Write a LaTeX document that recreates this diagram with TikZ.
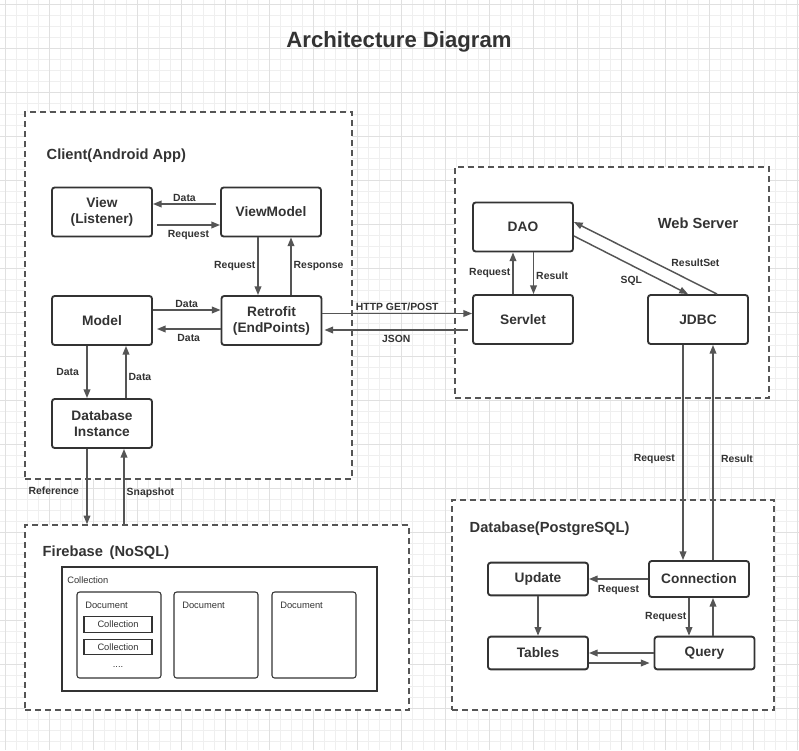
\documentclass[tikz,border=0pt]{standalone}
\usepackage{fontspec}
\setmainfont{Liberation Sans}
\usetikzlibrary{arrows.meta, positioning, fit, calc}
\definecolor{inkdark}{HTML}{333333}
\definecolor{inkline}{HTML}{555555}
\definecolor{gridminor}{HTML}{EFEFEF}
\definecolor{gridmajor}{HTML}{E0E0E0}

\begin{document}
\begin{tikzpicture}[
    x=0.75pt, y=-0.75pt,
    >={Triangle[length=6.5pt, width=5pt]},
    compbox/.style={draw=inkdark, rectangle, rounded corners=2pt,
        line width=1.4pt, fill=white, minimum width=75pt,
        minimum height=36.75pt, align=center, inner sep=0pt,
        font=\fontsize{10.3}{12}\selectfont\bfseries, text=inkdark},
    dbbox/.style={compbox, minimum height=24.5pt},
    groupbox/.style={draw=inkline, dash pattern=on 4.5pt off 3pt,
        line width=1.1pt, fill=white, inner sep=0pt},
    grouptitle/.style={font=\fontsize{11}{12}\selectfont\bfseries, text=inkdark},
    flow/.style={->, draw=inkline, line width=1.1pt},
    edgelabel/.style={font=\fontsize{7.8}{9}\selectfont\bfseries,
        text=inkdark, inner sep=1.5pt},
    smalltext/.style={font=\fontsize{7}{8}\selectfont, text=inkdark, inner sep=0pt},
    docbox/.style={draw=inkdark, rounded corners=2pt, line width=0.8pt, inner sep=0pt},
    subbox/.style={smalltext, draw=inkdark, line width=1pt,
        minimum width=51pt, minimum height=11.6pt}
]

% Background and grid
\fill[white] (0,0) rectangle (799,750);
\useasboundingbox (0,0) rectangle (799,750);
\foreach \gx in {5.3,16.3,...,799} \draw[gridminor, line width=0.6pt] (\gx,0) -- (\gx,750);
\foreach \gy in {4.7,15.7,...,750} \draw[gridminor, line width=0.6pt] (0,\gy) -- (799,\gy);
\foreach \gx in {5.3,49.3,...,799} \draw[gridmajor, line width=0.6pt] (\gx,0) -- (\gx,750);
\foreach \gy in {4.7,48.7,...,750} \draw[gridmajor, line width=0.6pt] (0,\gy) -- (799,\gy);

\node[font=\fontsize{16.6}{19}\selectfont\bfseries, text=inkdark] (title) at (399,42) {Architecture Diagram};

% Groups
\node[groupbox, fit={(25,112) (352,479)}] (client) {};
\node[groupbox, fit={(455,167) (769,398)}] (web) {};
\node[groupbox, fit={(25,525) (409,710)}] (fbase) {};
\node[groupbox, fit={(452,500) (774,710)}] (pg) {};

\node[grouptitle, anchor=west] (clienttitle) at (42,156) {Client(Android App)};
\node[grouptitle] (webtitle) at (698,223) {Web Server};
\node[grouptitle, anchor=west] (fbasetitle) at (38,553) {Firebase\hspace{5pt}(NoSQL)};
\node[grouptitle, anchor=west] (pgtitle) at (465,529) {Database(PostgreSQL)};

% Client
\node[compbox] (view) at (102,212) {View\\(Listener)};
\node[compbox] (vm) at (271,212) {ViewModel};
\node[compbox] (model) at (102,320.5) {Model};
\node[compbox] (retro) at (271.5,320.5) {Retrofit\\(EndPoints)};
\node[compbox] (dbi) at (102,423.5) {Database\\Instance};

% Web server
\node[compbox] (dao) at (523,227) {DAO};
\node[compbox] (servlet) at (523,319.5) {Servlet};
\node[compbox] (jdbc) at (698,319.5) {JDBC};

% PostgreSQL
\node[dbbox, minimum height=27pt] (conn) at (699,579) {Connection};
\node[dbbox] (update) at (538,579) {Update};
\node[dbbox] (tables) at (538,653) {Tables};
\node[dbbox] (query) at (704.5,653) {Query};

% Firebase
\node[fit={(62,567) (377,691)}, draw=inkdark, line width=1.3pt, inner sep=0pt] (coll) {};
\node[smalltext, anchor=west] (colltitle) at (67,580) {Collection};
\foreach \dx [count=\di] in {77,174,272} {
    \node[docbox, fit={(\dx,592) (\dx+84,678)}] (doc\di) {};
    \node[smalltext, anchor=west] (doctitle\di) at (\dx+8,605.5) {Document};
}
\node[subbox] (sub1) at (118,624.5) {Collection};
\node[subbox] (sub2) at (118,647) {Collection};
\node[smalltext] (dots) at (118,667) {....};

% Client paths
\draw[flow] ($(vm.west)+(-4,-8)$) -- node[edgelabel, above] {Data} ($(view.east)+(0,-8)$);
\draw[flow] ($(view.east)+(4,13)$) -- node[edgelabel, below=2pt] {Request} ($(vm.west)+(0,13)$);
\draw[flow] ($(vm.south)+(-13,0)$) -- node[edgelabel, left] {Request} ($(retro.north)+(-13.5,0)$);
\draw[flow] ($(retro.north)+(19.5,0)$) -- node[edgelabel, right] {Response} ($(vm.south)+(20,0)$);
\draw[flow] ($(model.east)+(0,-10.5)$) -- node[edgelabel, above] {Data} ($(retro.west)+(0,-10.5)$);
\draw[flow] ($(retro.west)+(0,8.5)$) -- node[edgelabel, below=2pt] {Data} ($(model.east)+(4,8.5)$);
\draw[flow] ($(model.south)+(-15,0)$) -- node[edgelabel, left=4pt] {Data} ($(dbi.north)+(-15,0)$);
\draw[flow] ($(dbi.north)+(24,0)$) -- node[edgelabel, right, pos=.4] {Data} ($(model.south)+(24,0)$);
\coordinate (refstart) at ($(dbi.south)+(-15,0)$);
\coordinate (snapend) at ($(dbi.south)+(22,0)$);
\draw[flow] (refstart) -- node[edgelabel, left=4pt, pos=.55] {Reference} (refstart |- fbase.north);
\draw[flow] (snapend |- fbase.north) -- node[edgelabel, right, pos=.42] {Snapshot} (snapend);

% Client to server
\coordinate (httpstart) at ($(retro.east)+(0,-7)$);
\coordinate (jsonstart) at ($(servlet.west)+(-4,10.5)$);
\draw[flow] (httpstart) -- node[edgelabel, above] {HTTP GET/POST} (httpstart -| servlet.west);
\draw[flow] (jsonstart) -- node[edgelabel, below=2pt] {JSON} ($(jsonstart -| retro.east)+(2,0)$);

% Server paths
\draw[flow] ($(servlet.north)+(-10,0)$) -- node[edgelabel, left] {Request} ($(dao.south)+(-10,0)$);
\draw[flow] ($(dao.south)+(10.5,0)$) -- node[edgelabel, right, pos=.55] {Result} ($(servlet.north)+(10.5,0)$);
\draw[flow] ($(dao.east)+(0,9)$) -- node[edgelabel, below left=4pt and -6pt, pos=.55] {SQL} ($(jdbc.north)+(-10,0)$);
\draw[flow] ($(jdbc.north)+(19,0)$) -- node[edgelabel, above right=2pt and -4pt, pos=.3] {ResultSet} ($(dao.east)+(0,-5)$);
\draw[flow] ($(jdbc.south)+(-15,0)$) -- node[edgelabel, left=4pt, pos=.53] {Request} ($(conn.north)+(-16,0)$);
\draw[flow] ($(conn.north)+(14,0)$) -- node[edgelabel, right=4pt, pos=.47] {Result} ($(jdbc.south)+(15,0)$);

% Database paths
\draw[flow] (conn) -- node[edgelabel, below=3pt, pos=.5] {Request} (update);
\draw[flow] ($(conn.south)+(-10,0)$) -- node[edgelabel, left] {Request} ($(query.north)+(-15.5,0)$);
\draw[flow] ($(query.north)+(8.5,0)$) -- ($(conn.south)+(14,0)$);
\draw[flow] (update) -- (tables);
\draw[flow] (query) -- (tables);
\draw[flow] ($(tables.east)+(0,10)$) -- ($(query.west)+(-4,10)$);

\end{tikzpicture}
\end{document}
